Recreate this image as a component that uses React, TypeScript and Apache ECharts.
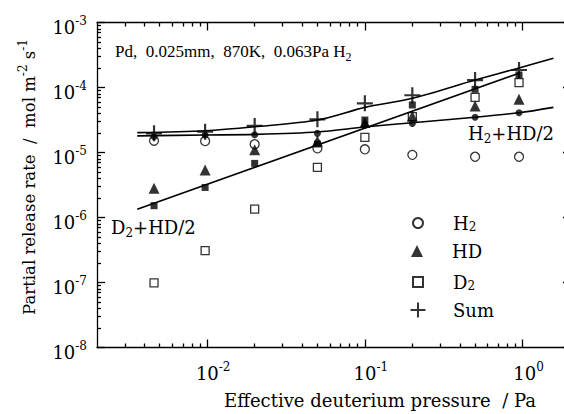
import React, { useEffect, useRef } from "react";
import * as echarts from "echarts";

// ---- data ----
const pressure = [0.0046, 0.0097, 0.02, 0.05, 0.1, 0.2, 0.5, 0.95];
const h2 = [1.52e-5, 1.5e-5, 1.34e-5, 1.16e-5, 1.12e-5, 9.2e-6, 8.6e-6, 8.6e-6];
const hd = [2.81e-6, 5.38e-6, 1.1e-5, 1.5e-5, 2.9e-5, 3.6e-5, 5.19e-5, 6.58e-5];
const d2 = [9.9e-8, 3.09e-7, 1.35e-6, 5.9e-6, 1.71e-5, 3.56e-5, 7.06e-5, 1.19e-4];
const sum = [1.97e-5, 2.09e-5, 2.56e-5, 3.24e-5, 5.71e-5, 7.6e-5, 1.3e-4, 1.86e-4];
const h2HalfHd = [1.75e-5, 1.86e-5, 1.88e-5, 1.97e-5, 2.62e-5, 2.8e-5, 3.48e-5, 4.09e-5];
const d2HalfHd = [1.52e-6, 2.9e-6, 6.8e-6, 1.35e-5, 3.16e-5, 5.38e-5, 9.38e-5, 1.56e-4];

// fitted curves
const sumFitP = [0.0036, 0.0097, 0.02, 0.05, 0.1, 0.2, 0.5, 0.95, 1.57];
const sumFitRate = [2.02e-5, 2.16e-5, 2.49e-5, 3.16e-5, 4.95e-5, 6.83e-5, 1.3e-4, 2.0e-4, 2.81e-4];
const h2FitP = [0.0036, 0.0097, 0.02, 0.05, 0.1, 0.2, 0.5, 0.95, 1.57];
const h2FitRate = [1.8e-5, 1.86e-5, 1.9e-5, 2.07e-5, 2.47e-5, 2.87e-5, 3.48e-5, 4.09e-5, 4.95e-5];
const d2FitP = [0.0036, 0.95];
const d2FitRate = [1.34e-6, 1.66e-4];

// axis ranges and ticks
const xRange = [0.002, 2];
const yRange = [1e-8, 1e-3];
const xMajorTicks = [0.01, 0.1, 1];
const yMajorTicks = [1e-8, 1e-7, 1e-6, 1e-5, 1e-4, 1e-3];
const minorMultipliers = [2, 3, 4, 5, 6, 7, 8, 9];

const SERIF = '"DejaVu Serif", "Liberation Serif", serif';
const TIMES = '"Liberation Serif", "DejaVu Serif", serif';
const L = (v: number) => Math.log10(v);

function minorTicks(range: number[]) {
  const lo = L(range[0]);
  const hi = L(range[1]);
  const out: number[] = [];
  for (let d = Math.floor(lo); d <= Math.ceil(hi); d++) {
    for (const k of minorMultipliers) {
      const v = d + L(k);
      if (v > lo + 1e-6 && v < hi - 1e-6) out.push(v);
    }
  }
  return out;
}

function pts(xs: number[], ys: number[]) {
  return xs.map((x, i) => [L(x), L(ys[i])]);
}

const nameMap: Record<string, string> = {
  H2: "H{sub|2}",
  HD: "HD",
  D2: "D{sub|2}",
  Sum: "Sum",
};

const subRich = {
  sub: { fontSize: 12, fontFamily: SERIF, verticalAlign: "bottom", lineHeight: 12, color: "#000" },
};

const PLUS = "path://M0,5L10,5M5,0L5,10";

function buildOption() {
  const xMin = L(xRange[0]);
  const xMax = L(xRange[1]);
  const yMin = L(yRange[0]);
  const yMax = L(yRange[1]);
  const xMajor = xMajorTicks.map(L);
  const yMajor = yMajorTicks.map(L);
  const xMinor = minorTicks(xRange);
  const yMinor = minorTicks(yRange);

  const black = { color: "#000", width: 1.3 };
  const tickRich = {
    b: { fontSize: 18, fontFamily: SERIF, lineHeight: 26, color: "#000" },
    s: { fontSize: 12, fontFamily: SERIF, lineHeight: 12, verticalAlign: "top", color: "#000" },
  };
  const fmt = (v: number) => `{b|10}{s|${Math.round(v)}}`;

  const baseX = {
    type: "value",
    min: xMin,
    max: xMax,
    splitLine: { show: false },
  };
  const baseY = {
    type: "value",
    min: yMin,
    max: yMax,
    splitLine: { show: false },
  };

  const xAxis = [
    {
      ...baseX,
      position: "bottom",
      axisLine: { show: true, onZero: false, lineStyle: black },
      axisTick: { show: true, inside: true, length: 8, customValues: xMajor, lineStyle: black },
      axisLabel: { show: true, customValues: xMajor, formatter: fmt, rich: tickRich, margin: 13, padding: [0, 0, 0, 12] },
    },
    {
      ...baseX,
      position: "bottom",
      axisLine: { show: false, onZero: false },
      axisTick: { show: true, inside: true, length: 4, customValues: xMinor, lineStyle: black },
      axisLabel: { show: false },
    },
    {
      ...baseX,
      position: "top",
      axisLine: { show: true, onZero: false, lineStyle: black },
      axisTick: { show: true, inside: true, length: 8, customValues: xMajor, lineStyle: black },
      axisLabel: { show: false },
    },
    {
      ...baseX,
      position: "top",
      axisLine: { show: false, onZero: false },
      axisTick: { show: true, inside: true, length: 4, customValues: xMinor, lineStyle: black },
      axisLabel: { show: false },
    },
  ];

  const yAxis = [
    {
      ...baseY,
      position: "left",
      axisLine: { show: true, onZero: false, lineStyle: black },
      axisTick: { show: true, inside: true, length: 8, customValues: yMajor, lineStyle: black },
      axisLabel: { show: true, customValues: yMajor, formatter: fmt, rich: tickRich, margin: 10, padding: [10, 0, 0, 0] },
    },
    {
      ...baseY,
      position: "left",
      axisLine: { show: false, onZero: false },
      axisTick: { show: true, inside: true, length: 4, customValues: yMinor, lineStyle: black },
      axisLabel: { show: false },
    },
    {
      ...baseY,
      position: "right",
      axisLine: { show: true, onZero: false, lineStyle: black },
      axisTick: { show: true, inside: true, length: 7, customValues: yMajor, lineStyle: black },
      axisLabel: { show: false },
    },
  ];

  const lineStyle = { color: "#000", width: 1.6 };
  const fitLine = (name: string, xs: number[], ys: number[], smooth: number | boolean) => ({
    name,
    type: "line",
    data: pts(xs, ys),
    showSymbol: false,
    symbol: "none",
    smooth,
    lineStyle,
    silent: true,
  });
  const scat = (name: string, ys: number[], symbol: string, size: number, itemStyle: any) => ({
    name,
    type: "scatter",
    data: pts(pressure, ys),
    symbol,
    symbolSize: size,
    symbolKeepAspect: true,
    itemStyle,
    silent: true,
  });
  const open = { color: "#fff", borderColor: "#000", borderWidth: 1.3 };
  const filled = { color: "#000", borderWidth: 0 };

  const series = [
    fitLine("sumFit", sumFitP, sumFitRate, 0.3),
    fitLine("h2Fit", h2FitP, h2FitRate, 0.3),
    fitLine("d2Fit", d2FitP, d2FitRate, false),
    scat("D2", d2, "rect", 8, open),
    scat("H2", h2, "circle", 9, open),
    scat("HD", hd, "triangle", 11, filled),
    scat("D2+HD/2", d2HalfHd, "rect", 7, filled),
    scat("H2+HD/2", h2HalfHd, "circle", 7, filled),
    scat("Sum", sum, PLUS, 16, { color: "rgba(0,0,0,0)", borderColor: "#000", borderWidth: 2.2 }),
  ];

  // legend rows: icon centred at x = 417, text starting at x = 452
  const legendRow = (name: string, center: number, size: number) => ({
    data: [name],
    orient: "vertical",
    left: 417 - size / 2,
    top: center - 10,
    padding: 0,
    itemWidth: size,
    itemHeight: size,
    itemGap: 0,
    selectedMode: false,
    formatter: (n: string) => nameMap[n] || n,
    textStyle: {
      fontFamily: SERIF,
      fontSize: 18,
      lineHeight: 20,
      color: "#000",
      padding: [0, 0, 0, 30 - size / 2],
      rich: subRich,
    },
  });

  const legend = [
    legendRow("H2", 223, 10),
    legendRow("HD", 251, 12),
    legendRow("D2", 282, 10),
    legendRow("Sum", 310, 15),
  ];

  const makeRich = (fam: string) => ({
    sub: { fontSize: 12, fontFamily: fam, verticalAlign: "bottom", lineHeight: 12, fill: "#000" },
    sup: { fontSize: 12, fontFamily: fam, verticalAlign: "top", lineHeight: 12, fill: "#000" },
  });
  const txt = (x: number, y: number, text: string, size: number, fam: string, extra: any = {}) => ({
    type: "text",
    x,
    y,
    silent: true,
    ...extra,
    style: {
      text,
      fontFamily: fam,
      fontSize: size,
      lineHeight: 24,
      fill: "#000",
      verticalAlign: "middle",
      align: "left",
      rich: makeRich(fam),
      ...(extra.style || {}),
    },
  });

  const graphic = [
    txt(115, 51, "Pd,  0.025mm,  870K,  0.063Pa H{sub|2}", 17, TIMES),
    txt(468, 133, "H{sub|2}+HD/2", 18, SERIF),
    txt(111, 227, "D{sub|2}+HD/2", 18, SERIF),
    txt(380, 400, "Effective deuterium pressure  / Pa", 18, SERIF, { style: { align: "center" } }),
    txt(29, 177, "Partial release rate  /  mol m{sup|-2} s{sup|-1}", 16.5, SERIF, {
      rotation: Math.PI / 2,
      style: { align: "center" },
    }),
  ];

  return {
    animation: false,
    backgroundColor: "#fff",
    grid: { left: 97, top: 22.5, right: -6, bottom: 66.5, containLabel: false, outerBoundsMode: "none" },
    xAxis,
    yAxis,
    legend,
    series,
    graphic,
  };
}

export default function App() {
  const ref = useRef<HTMLDivElement>(null);
  useEffect(() => {
    if (!ref.current) return;
    const chart = echarts.init(ref.current, null, { renderer: "svg" });
    chart.setOption(buildOption() as any);
    return () => chart.dispose();
  }, []);
  return (
    <div
      ref={ref}
      style={{ position: "fixed", left: 0, top: 0, width: 564, height: 414, background: "#fff" }}
    />
  );
}
